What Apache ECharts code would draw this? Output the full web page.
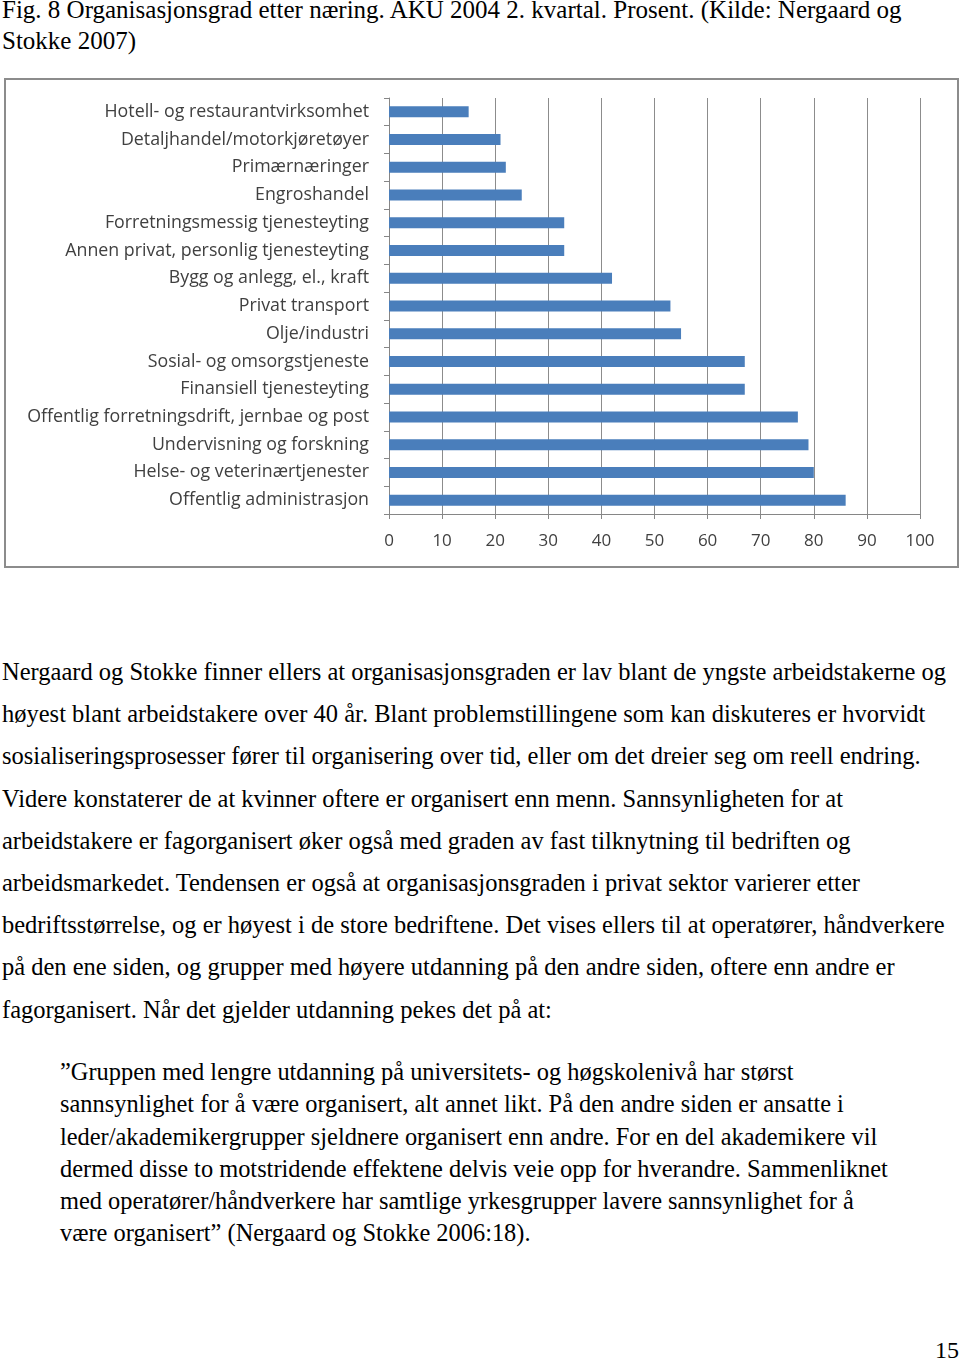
<!DOCTYPE html>
<html>
<head>
    <meta charset="utf-8">
    <title>Organisasjonsgrad etter næring</title>
    <script src="https://cdn.jsdelivr.net/npm/echarts@6/dist/echarts.min.js"></script>
    <style>
        body { margin: 0; width: 960px; height: 1360px; background: #fff; position: relative; overflow: hidden; }
        .txt { position: absolute; font-family: "Liberation Serif", "Times New Roman", serif; color: #000; white-space: nowrap; }
        #box { position: absolute; left: 4px; top: 78px; width: 955px; height: 490px; border: 2px solid #8c8c8c; box-sizing: border-box; }
        #main { position: absolute; left: 0; top: 0; width: 951px; height: 486px; }
    </style>
</head>
<body>
    <div class="txt" id="title" style="left:2px;top:-6px;font-size:25px;line-height:31px;">
        Fig. 8 Organisasjonsgrad etter næring. AKU 2004 2. kvartal. Prosent. (Kilde: Nergaard og<br>Stokke 2007)
    </div>

    <div id="box"><div id="main"></div></div>

    <div class="txt" style="left:2px;top:651px;font-size:24.5px;line-height:42.2px;">
        Nergaard og Stokke finner ellers at organisasjonsgraden er lav blant de yngste arbeidstakerne og<br>
        høyest blant arbeidstakere over 40 år. Blant problemstillingene som kan diskuteres er hvorvidt<br>
        sosialiseringsprosesser fører til organisering over tid, eller om det dreier seg om reell endring.<br>
        Videre konstaterer de at kvinner oftere er organisert enn menn. Sannsynligheten for at<br>
        arbeidstakere er fagorganisert øker også med graden av fast tilknytning til bedriften og<br>
        arbeidsmarkedet. Tendensen er også at organisasjonsgraden i privat sektor varierer etter<br>
        bedriftsstørrelse, og er høyest i de store bedriftene. Det vises ellers til at operatører, håndverkere<br>
        på den ene siden, og grupper med høyere utdanning på den andre siden, oftere enn andre er<br>
        fagorganisert. Når det gjelder utdanning pekes det på at:
    </div>

    <div class="txt" style="left:60px;top:1056px;font-size:24.4px;line-height:32.3px;">
        ”Gruppen med lengre utdanning på universitets- og høgskolenivå har størst<br>
        sannsynlighet for å være organisert, alt annet likt. På den andre siden er ansatte i<br>
        leder/akademikergrupper sjeldnere organisert enn andre. For en del akademikere vil<br>
        dermed disse to motstridende effektene delvis veie opp for hverandre. Sammenliknet<br>
        med operatører/håndverkere har samtlige yrkesgrupper lavere sannsynlighet for å<br>
        være organisert” (Nergaard og Stokke 2006:18).
    </div>

    <div class="txt" style="left:935px;top:1336px;font-size:24px;line-height:28px;">15</div>

    <script type="text/javascript">
        // data (per cent)
        var naeringer = [
            'Hotell- og restaurantvirksomhet',
            'Detaljhandel/motorkjøretøyer',
            'Primærnæringer',
            'Engroshandel',
            'Forretningsmessig tjenesteyting',
            'Annen privat, personlig tjenesteyting',
            'Bygg og anlegg, el., kraft',
            'Privat transport',
            'Olje/industri',
            'Sosial- og omsorgstjeneste',
            'Finansiell tjenesteyting',
            'Offentlig forretningsdrift, jernbae og post',
            'Undervisning og forskning',
            'Helse- og veterinærtjenester',
            'Offentlig administrasjon'
        ];
        var organisasjonsgrad = [15, 21, 22, 25, 33, 33, 42, 53, 55, 67, 67, 77, 79, 80, 86];
        var xTicks = [0, 10, 20, 30, 40, 50, 60, 70, 80, 90, 100];

        var myChart = echarts.init(document.getElementById('main'));

        var option = {
            animation: false,
            grid: {
                left: 383,
                right: 37,
                top: 18,
                bottom: 52
            },
            xAxis: {
                type: 'value',
                min: xTicks[0],
                max: xTicks[xTicks.length - 1],
                interval: 10,
                axisLine: { show: true, lineStyle: { color: '#868686', width: 1 } },
                axisTick: { show: true, length: 5, lineStyle: { color: '#868686' } },
                splitLine: { show: true, lineStyle: { color: '#8c8c8c', width: 1 } },
                axisLabel: {
                    margin: 19,
                    color: '#404040',
                    fontFamily: 'Open Sans',
                    fontSize: 17
                }
            },
            yAxis: {
                type: 'category',
                inverse: true,
                data: naeringer,
                axisLine: { show: true, lineStyle: { color: '#868686', width: 1 } },
                axisTick: { show: true, length: 5, lineStyle: { color: '#868686' } },
                axisLabel: {
                    margin: 20,
                    color: '#404040',
                    fontFamily: 'Open Sans',
                    fontSize: 17.8
                }
            },
            series: [
                {
                    type: 'bar',
                    data: organisasjonsgrad,
                    barWidth: 11,
                    itemStyle: { color: '#4a7ebb' }
                }
            ]
        };
        myChart.setOption(option);
    </script>
</body>
</html>
